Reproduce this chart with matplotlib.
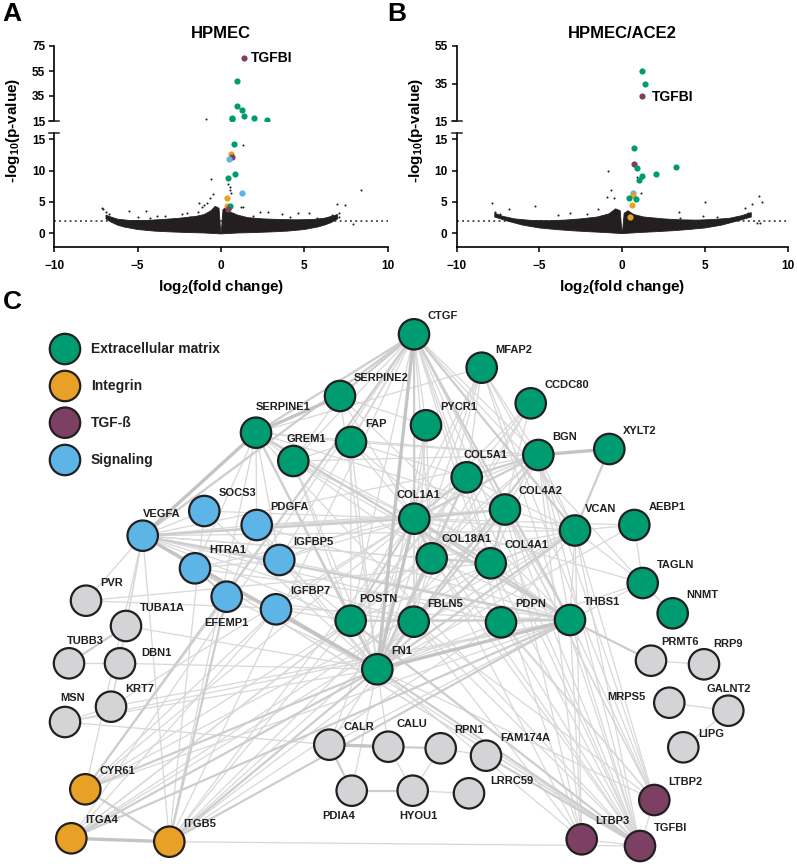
import matplotlib
matplotlib.use('Agg')
import matplotlib.pyplot as plt
from matplotlib.lines import Line2D
from matplotlib.collections import LineCollection

W, H = 797, 864
plt.rcParams['font.family'] = ['Liberation Sans', 'DejaVu Sans']
plt.rcParams['font.weight'] = 'bold'
plt.rcParams['mathtext.fontset'] = 'custom'
plt.rcParams['mathtext.rm'] = 'Liberation Sans:bold'
plt.rcParams['mathtext.it'] = 'Liberation Sans:bold'
plt.rcParams['mathtext.bf'] = 'Liberation Sans:bold'
plt.rcParams['mathtext.default'] = 'regular'

# ---------------- data: volcano plots ----------------
CAT_COLORS = {'ecm': '#009c71', 'int': '#e8a126', 'tgf': '#7b4064', 'sig': '#5cb5e6', 'oth': '#d4d4d6'}

A_hit_x = [1.40, 0.96, 0.96, 1.28, 1.40, 1.98, 2.74, 0.64, 0.64, 0.80, 0.60, 0.68, 0.48, 0.82, 0.42, 1.28, 0.38, 0.38, 0.52, 0.42]
A_hit_y = [65.6, 46.8, 27.0, 23.5, 18.7, 17.6, 15.8, 17.2, 16.5, 14.3, 12.6, 12.1, 11.8, 9.4, 8.9, 6.4, 5.6, 4.4, 4.4, 3.8]
A_hit_cat = ['tgf', 'ecm', 'ecm', 'ecm', 'ecm', 'ecm', 'ecm', 'ecm', 'ecm', 'ecm', 'int', 'tgf', 'sig', 'ecm', 'ecm', 'sig', 'int', 'int', 'ecm', 'tgf']

B_hit_x = [1.18, 1.40, 1.21, 0.69, 0.71, 0.87, 3.25, 2.04, 1.22, 1.00, 0.67, 0.63, 0.39, 0.83, 0.61, 0.47]
B_hit_y = [41.8, 34.6, 28.3, 13.6, 11.1, 10.5, 10.6, 9.5, 9.2, 8.5, 6.4, 6.1, 5.7, 5.5, 4.5, 2.65]
B_hit_cat = ['ecm', 'ecm', 'tgf', 'ecm', 'tgf', 'ecm', 'ecm', 'ecm', 'ecm', 'ecm', 'sig', 'int', 'ecm', 'ecm', 'int', 'int']

A_bg_x = [-7.16, -7.06, -6.9, -6.7, -5.5, -4.5, -3.36, -2.36, -1.36, -0.86, -0.66, -0.5, -1.16, -1.02, -4.96, -4.26,
          -3.86, -1.86, -2.06, -1.3, -0.62, -0.88, 0.44, 0.52, 0.6, 0.56, 1.3, 1.18, 1.34, 1.9, 2.34, 2.84, 3.68,
          4.64, 5.28, 4.14, 5.74, 6.64, 6.98, 7.44, 7.1, 7.06, 8.38, 7.94]
A_bg_y = [3.99, 3.93, 3.35, 3.03, 3.6, 3.6, 2.8, 3.1, 3.35, 4.8, 5.6, 6.3, 4.15, 4.5, 2.55, 2.4,
          2.76, 2.65, 3.2, 4.9, 8.7, 16.3, 7.8, 7.4, 6.4, 6.9, 14.1, 4.25, 4.25, 2.76, 3.4, 3.4, 3.1,
          3.2, 3.3, 2.55, 2.4, 2.92, 4.7, 4.5, 3.3, 2.65, 6.9, 1.5]

B_bg_x = [-7.85, -7.69, -7.38, -6.82, -5.25, -1.44, -0.66, -0.48, 1.14, 3.45, 5.0, 7.86, 8.28, 8.43, 8.16, 8.32,
          7.62, 7.42, -3.86, -3.15, -2.15, 3.49, 4.9, 5.71, -0.94, -0.84, 0.87]
B_bg_y = [4.9, 3.35, 3.03, 3.83, 4.4, 3.83, 6.9, 5.6, 6.5, 3.35, 5.04, 4.68, 5.95, 5.04, 1.69, 1.7,
          3.3, 3.99, 2.92, 3.19, 3.08, 2.4, 2.76, 2.65, 5.84, 10.0, 9.0]

# dense cloud of non-significant genes: upper envelope (left->right) and lower envelope (right->left)
A_cloud_up_x = [-6.9, -6.6, -6.2, -5.5, -4.5, -3.5, -2.5, -1.5, -1.0, -0.6, -0.35, -0.12, -0.02, 0.02, 0.12, 0.3, 0.55, 1.0, 1.6, 2.5, 3.5, 4.5, 5.5, 6.2, 6.7, 7.0]
A_cloud_up_y = [2.9, 2.6, 2.25, 2.05, 2.05, 2.2, 2.4, 2.7, 3.0, 3.6, 4.3, 4.0, 0.3, 0.3, 3.8, 4.1, 3.4, 2.9, 2.5, 2.3, 2.2, 2.15, 2.2, 2.4, 2.75, 3.0]
A_cloud_lo_x = [7.0, 6.6, 6.2, 5.8, 5.0, 4.0, 3.0, 2.0, 1.0, 0.0, -1.0, -2.0, -3.0, -4.0, -5.0, -5.8, -6.2, -6.6, -6.9]
A_cloud_lo_y = [2.3, 1.7, 1.3, 1.0, 0.6, 0.35, 0.22, 0.12, 0.05, -0.1, 0.05, 0.12, 0.22, 0.35, 0.6, 1.0, 1.3, 1.8, 2.3]

B_cloud_up_x = [-7.7, -7.2, -6.5, -5.5, -4.5, -3.5, -2.5, -1.5, -0.8, -0.4, -0.12, -0.02, 0.02, 0.12, 0.35, 0.7, 1.3, 2.5, 3.5, 4.5, 5.5, 6.5, 7.2, 7.8]
B_cloud_up_y = [3.2, 2.7, 2.3, 2.05, 2.0, 2.1, 2.3, 2.6, 3.1, 3.9, 3.6, 0.3, 0.3, 3.2, 3.6, 3.0, 2.6, 2.3, 2.15, 2.1, 2.2, 2.4, 2.8, 3.3]
B_cloud_lo_x = [7.8, 7.0, 6.0, 5.0, 4.0, 3.0, 2.0, 1.0, 0.0, -1.0, -2.0, -3.0, -4.0, -5.0, -6.0, -7.0, -7.7]
B_cloud_lo_y = [2.6, 2.0, 1.3, 0.85, 0.6, 0.4, 0.25, 0.12, -0.05, 0.12, 0.25, 0.4, 0.6, 0.85, 1.3, 2.0, 2.6]

THRESH = 2.0
x_ticks = [-10, -5, 0, 5, 10]
lower_ticks = [0, 5, 10, 15]
A_upper_ticks = [15, 35, 55, 75]
B_upper_ticks = [15, 35, 55]

# ---------------- data: network ----------------
legend_names = ['Extracellular matrix', 'Integrin', 'TGF-ß', 'Signaling']
legend_cats = ['ecm', 'int', 'tgf', 'sig']

ecm_genes = ['CTGF', 'MFAP2', 'CCDC80', 'SERPINE2', 'SERPINE1', 'GREM1', 'FAP', 'PYCR1', 'BGN', 'XYLT2', 'COL5A1',
             'COL1A1', 'COL4A2', 'VCAN', 'AEBP1', 'COL18A1', 'COL4A1', 'TAGLN', 'NNMT', 'POSTN', 'FBLN5', 'PDPN',
             'THBS1', 'FN1']
int_genes = ['CYR61', 'ITGA4', 'ITGB5']
tgf_genes = ['LTBP2', 'LTBP3', 'TGFBI']
sig_genes = ['VEGFA', 'SOCS3', 'PDGFA', 'HTRA1', 'IGFBP5', 'EFEMP1', 'IGFBP7']
oth_genes = ['PVR', 'TUBA1A', 'TUBB3', 'DBN1', 'KRT7', 'MSN', 'CALR', 'CALU', 'RPN1', 'FAM174A', 'PDIA4', 'HYOU1',
             'LRRC59', 'PRMT6', 'RRP9', 'MRPS5', 'GALNT2', 'LIPG']

edges = [
    ("SERPINE1", "SERPINE2", 3), ("SERPINE1", "VEGFA", 3), ("SERPINE1", "CTGF", 2), ("SERPINE2", "CTGF", 2),
    ("SERPINE1", "FN1", 2), ("SERPINE1", "THBS1", 2), ("SERPINE1", "COL1A1", 1), ("SERPINE1", "PDGFA", 1),
    ("SERPINE1", "IGFBP5", 1), ("SERPINE1", "GREM1", 1), ("SERPINE1", "FAP", 1), ("SERPINE1", "VCAN", 1),
    ("SERPINE1", "POSTN", 1), ("SERPINE1", "HTRA1", 1), ("SERPINE1", "BGN", 1), ("SERPINE1", "TGFBI", 1),
    ("SERPINE1", "ITGB5", 1), ("SERPINE2", "FN1", 1), ("SERPINE2", "COL1A1", 1), ("SERPINE2", "PYCR1", 1),
    ("SERPINE2", "THBS1", 1), ("SERPINE2", "GREM1", 1),
    ("CTGF", "COL1A1", 2), ("CTGF", "THBS1", 2), ("CTGF", "VCAN", 2), ("CTGF", "GREM1", 1), ("CTGF", "FAP", 1),
    ("CTGF", "BGN", 1), ("CTGF", "COL4A2", 1), ("CTGF", "COL5A1", 1), ("CTGF", "POSTN", 1), ("CTGF", "TGFBI", 1),
    ("CTGF", "COL18A1", 1), ("CTGF", "VEGFA", 2), ("CTGF", "CYR61", 2), ("CTGF", "PYCR1", 1), ("CTGF", "COL4A1", 1),
    ("CTGF", "FBLN5", 1), ("CTGF", "PDPN", 1), ("CTGF", "LTBP2", 1), ("CTGF", "ITGB5", 1), ("CTGF", "ITGA4", 1),
    ("CTGF", "TAGLN", 1), ("CTGF", "IGFBP5", 1), ("CTGF", "FN1", 3),
    ("MFAP2", "FBLN5", 1), ("MFAP2", "COL1A1", 1), ("MFAP2", "BGN", 1), ("MFAP2", "LTBP2", 1), ("MFAP2", "VCAN", 1),
    ("MFAP2", "COL5A1", 1), ("MFAP2", "FN1", 1), ("MFAP2", "SERPINE1", 1), ("MFAP2", "TGFBI", 1), ("MFAP2", "POSTN", 1),
    ("CCDC80", "COL1A1", 1), ("CCDC80", "FN1", 1), ("CCDC80", "COL18A1", 1), ("CCDC80", "COL4A1", 1), ("CCDC80", "POSTN", 1),
    ("BGN", "XYLT2", 3), ("BGN", "COL1A1", 2), ("BGN", "COL5A1", 2), ("BGN", "COL4A2", 1), ("BGN", "COL4A1", 1),
    ("BGN", "VCAN", 1), ("BGN", "FN1", 2), ("BGN", "POSTN", 1), ("BGN", "THBS1", 1), ("BGN", "FBLN5", 1),
    ("BGN", "TGFBI", 1), ("BGN", "GREM1", 1), ("BGN", "COL18A1", 1), ("BGN", "LTBP2", 1), ("BGN", "FAP", 1),
    ("BGN", "VEGFA", 1), ("BGN", "IGFBP5", 1), ("XYLT2", "VCAN", 2),
    ("AEBP1", "TAGLN", 1), ("AEBP1", "COL1A1", 1), ("AEBP1", "VCAN", 1), ("AEBP1", "FN1", 1),
    ("TAGLN", "NNMT", 1), ("TAGLN", "THBS1", 1), ("TAGLN", "FN1", 1), ("TAGLN", "COL1A1", 1), ("TAGLN", "VCAN", 1),
    ("THBS1", "PRMT6", 2), ("PRMT6", "RRP9", 1), ("MRPS5", "GALNT2", 1), ("GALNT2", "LIPG", 1),
    ("VEGFA", "FN1", 3), ("VEGFA", "COL1A1", 2), ("VEGFA", "COL4A2", 1), ("VEGFA", "COL18A1", 1), ("VEGFA", "THBS1", 2),
    ("VEGFA", "POSTN", 1), ("VEGFA", "PDGFA", 1), ("VEGFA", "IGFBP5", 1), ("VEGFA", "SOCS3", 1), ("VEGFA", "VCAN", 1),
    ("VEGFA", "PVR", 1), ("VEGFA", "TUBA1A", 1), ("VEGFA", "COL4A1", 1), ("VEGFA", "FBLN5", 1), ("VEGFA", "PDPN", 1),
    ("VEGFA", "ITGB5", 1), ("VEGFA", "CYR61", 1), ("VEGFA", "KRT7", 1),
    ("HTRA1", "EFEMP1", 2), ("HTRA1", "IGFBP5", 1), ("HTRA1", "COL1A1", 1), ("HTRA1", "TGFBI", 1),
    ("IGFBP7", "FN1", 2), ("IGFBP7", "POSTN", 1), ("IGFBP7", "COL1A1", 1), ("IGFBP7", "ITGA4", 1), ("IGFBP7", "CYR61", 1),
    ("IGFBP5", "COL1A1", 1), ("IGFBP5", "FN1", 1), ("IGFBP5", "POSTN", 1), ("IGFBP5", "THBS1", 1), ("IGFBP5", "PDGFA", 1),
    ("PDGFA", "COL1A1", 1), ("PDGFA", "FN1", 1), ("PDGFA", "EFEMP1", 1), ("PDGFA", "THBS1", 1), ("PDGFA", "COL4A2", 1),
    ("SOCS3", "ITGB5", 1), ("SOCS3", "FN1", 1), ("SOCS3", "COL1A1", 1),
    ("EFEMP1", "ITGB5", 2), ("EFEMP1", "CYR61", 1), ("EFEMP1", "FN1", 1), ("EFEMP1", "FBLN5", 1),
    ("ITGA4", "ITGB5", 3), ("CYR61", "ITGB5", 2), ("CYR61", "FN1", 2), ("CYR61", "THBS1", 1), ("CYR61", "VCAN", 1),
    ("CYR61", "POSTN", 1), ("CYR61", "COL1A1", 1),
    ("ITGA4", "FN1", 2), ("ITGA4", "VCAN", 1), ("ITGA4", "THBS1", 2), ("ITGA4", "POSTN", 1), ("ITGA4", "COL4A1", 1),
    ("ITGA4", "COL18A1", 1),
    ("ITGB5", "FN1", 2), ("ITGB5", "COL1A1", 1), ("ITGB5", "POSTN", 1), ("ITGB5", "TGFBI", 1), ("ITGB5", "VCAN", 1),
    ("ITGB5", "THBS1", 2), ("ITGB5", "COL4A2", 1), ("ITGB5", "FBLN5", 1), ("ITGB5", "PDPN", 1),
    ("TUBA1A", "TUBB3", 2), ("TUBB3", "DBN1", 1), ("TUBA1A", "KRT7", 1), ("KRT7", "MSN", 1), ("MSN", "FN1", 1),
    ("MSN", "CALR", 1), ("KRT7", "THBS1", 1), ("KRT7", "COL1A1", 1), ("PVR", "COL4A1", 1), ("DBN1", "FN1", 1),
    ("TUBA1A", "FN1", 1), ("MSN", "THBS1", 1), ("PVR", "THBS1", 1),
    ("CALR", "CALU", 3), ("CALR", "PDIA4", 2), ("PDIA4", "HYOU1", 2), ("CALU", "RPN1", 2), ("CALU", "HYOU1", 1),
    ("RPN1", "HYOU1", 1), ("HYOU1", "LRRC59", 1), ("CALR", "FN1", 1), ("CALR", "THBS1", 1), ("CALU", "FN1", 1),
    ("FAM174A", "TGFBI", 2), ("CALR", "COL1A1", 1), ("PDIA4", "FN1", 1), ("RPN1", "FAM174A", 1),
    ("LTBP2", "TGFBI", 1), ("LTBP2", "FN1", 1), ("LTBP2", "THBS1", 1), ("LTBP2", "COL1A1", 1), ("LTBP2", "FBLN5", 1),
    ("LTBP2", "VCAN", 1), ("LTBP2", "COL4A2", 1), ("LTBP2", "PDPN", 1),
    ("LTBP3", "FN1", 1), ("LTBP3", "THBS1", 1), ("LTBP3", "COL1A1", 1), ("LTBP3", "COL4A2", 1), ("LTBP3", "TGFBI", 1),
    ("LTBP3", "BGN", 1), ("LTBP3", "FBLN5", 1), ("LTBP3", "VCAN", 1), ("LTBP3", "COL4A1", 1),
    ("TGFBI", "FN1", 2), ("TGFBI", "COL1A1", 1), ("TGFBI", "POSTN", 2), ("TGFBI", "COL4A2", 1), ("TGFBI", "THBS1", 1),
    ("TGFBI", "VCAN", 1), ("TGFBI", "COL5A1", 1), ("TGFBI", "COL18A1", 1), ("TGFBI", "COL4A1", 1), ("TGFBI", "FBLN5", 1),
    ("TGFBI", "PDPN", 1), ("TGFBI", "VEGFA", 1), ("TGFBI", "IGFBP7", 1),
    ("FN1", "COL1A1", 3), ("FN1", "COL4A1", 2), ("FN1", "COL4A2", 2), ("FN1", "COL5A1", 2), ("FN1", "COL18A1", 2),
    ("FN1", "POSTN", 2), ("FN1", "FBLN5", 2), ("FN1", "PDPN", 1), ("FN1", "THBS1", 3), ("FN1", "VCAN", 2),
    ("FN1", "FAP", 1), ("FN1", "GREM1", 1), ("FN1", "HTRA1", 1), ("FN1", "PYCR1", 1),
    ("THBS1", "COL1A1", 2), ("THBS1", "VCAN", 1), ("THBS1", "POSTN", 2), ("THBS1", "PDPN", 1), ("THBS1", "COL4A1", 1),
    ("THBS1", "COL18A1", 1), ("THBS1", "COL4A2", 1), ("THBS1", "FBLN5", 1), ("THBS1", "GREM1", 1), ("THBS1", "HTRA1", 1),
    ("COL1A1", "COL4A1", 2), ("COL1A1", "COL4A2", 2), ("COL1A1", "COL5A1", 2), ("COL1A1", "COL18A1", 2),
    ("COL1A1", "POSTN", 2), ("COL1A1", "VCAN", 1), ("COL1A1", "PDPN", 1), ("COL1A1", "FBLN5", 1), ("COL1A1", "GREM1", 1),
    ("COL1A1", "FAP", 1), ("COL1A1", "PYCR1", 1),
    ("COL4A1", "COL4A2", 2), ("COL4A1", "COL18A1", 2), ("COL4A1", "COL5A1", 1), ("COL4A2", "COL18A1", 1),
    ("COL4A2", "COL5A1", 1), ("COL5A1", "COL18A1", 1), ("COL5A1", "POSTN", 1), ("COL5A1", "VCAN", 1),
    ("POSTN", "FBLN5", 1), ("POSTN", "VCAN", 1), ("POSTN", "GREM1", 1), ("POSTN", "FAP", 1), ("VCAN", "COL4A1", 1),
    ("VCAN", "COL18A1", 1), ("VCAN", "PDPN", 1), ("FAP", "GREM1", 1), ("FAP", "COL5A1", 1), ("GREM1", "COL18A1", 1),
    ("FAP", "COL4A1", 1), ("PYCR1", "COL18A1", 1), ("PYCR1", "FBLN5", 1),
]

# ---------------- layout (pixel positions) ----------------
layout = {
    'CTGF': (414, 334.3), 'MFAP2': (481.7, 367.7), 'CCDC80': (530.7, 403.3), 'SERPINE2': (340, 396),
    'SERPINE1': (256, 432.7), 'GREM1': (293.3, 461), 'FAP': (351, 442), 'PYCR1': (426, 425.3), 'BGN': (538.3, 455),
    'XYLT2': (609.3, 449), 'COL5A1': (466.7, 477.3), 'COL1A1': (414.3, 518.7), 'COL4A2': (505, 509.5),
    'VCAN': (575, 530.5), 'AEBP1': (634.3, 525), 'COL18A1': (431.7, 558.3), 'COL4A1': (490.7, 563.3),
    'TAGLN': (642.7, 583), 'NNMT': (672.7, 613.3), 'POSTN': (350.7, 620.7), 'FBLN5': (413.7, 621.7),
    'PDPN': (501, 622.3), 'THBS1': (570, 620), 'FN1': (377.3, 669.3),
    'VEGFA': (142.7, 535.7), 'SOCS3': (204.3, 511), 'PDGFA': (256.7, 525), 'HTRA1': (195, 568.3),
    'IGFBP5': (279.3, 560), 'EFEMP1': (226.7, 596.7), 'IGFBP7': (276, 609.3),
    'PVR': (86, 600.7), 'TUBA1A': (126, 626), 'TUBB3': (69, 663.3), 'DBN1': (120, 663.3), 'KRT7': (111, 706.7),
    'MSN': (65, 722), 'CYR61': (85.3, 789.3), 'ITGA4': (71.3, 838.3), 'ITGB5': (169.3, 841.7),
    'CALR': (329.3, 744.7), 'CALU': (388.3, 746.7), 'RPN1': (440.7, 748.3), 'FAM174A': (486, 755.7),
    'PDIA4': (351.7, 790.7), 'HYOU1': (412.7, 790.7), 'LRRC59': (469, 793.3),
    'PRMT6': (651, 660.7), 'RRP9': (704, 664.3), 'MRPS5': (669.3, 702.7), 'GALNT2': (728.3, 710.7),
    'LIPG': (683.3, 747.3), 'LTBP2': (654.3, 800), 'LTBP3': (581.7, 839.3), 'TGFBI': (640, 846),
}
label_offsets = {
    'SERPINE1': (0, -26, 'left'), 'GREM1': (-7, -22, 'left'), 'VEGFA': (0, -22, 'left'), 'EFEMP1': (0, 26, 'center'),
    'PDIA4': (-13, 25, 'center'), 'HYOU1': (6, 25, 'center'), 'MRPS5': (-24, -6, 'right'), 'TUBB3': (-2, -22, 'left'),
    'MSN': (-5, -24, 'left'), 'COL1A1': (-18, -24, 'left'), 'COL18A1': (10, -19, 'left'), 'COL5A1': (-3, -22, 'left'),
    'POSTN': (9, -22, 'left'), 'VCAN': (10, -21, 'left'), 'PRMT6': (10, -19, 'left'), 'RRP9': (9, -20, 'left'),
    'GALNT2': (-22, -22, 'left'), 'LIPG': (15, -13, 'left'), 'LRRC59': (21, -12, 'left'), 'CALU': (8, -23, 'left'),
    'DBN1': (21, -10, 'left'),
}
DEFAULT_OFF = (14, -18, 'left')


def rect(l, t, r, b):
    return [l / W, 1 - b / H, (r - l) / W, (b - t) / H]


fig = plt.figure(figsize=(W / 100, H / 100), dpi=100)
fig.patch.set_facecolor('white')


def ftext(x, y, s, **kw):
    fig.text(x / W, 1 - y / H, s, **kw)


def volcano(xl, xr, hit_x, hit_y, hit_cat, bg_x, bg_y, cu_x, cu_y, cl_x, cl_y, up_top, up_ticks, title, label_xy):
    lo = fig.add_axes(rect(xl, 133.3, xr, 246.7))
    up = fig.add_axes(rect(xl, 46, xr, 121))
    for ax in (lo, up):
        ax.patch.set_alpha(0)
        ax.set_xlim(-10, 10)
        for s in ('top', 'right'):
            ax.spines[s].set_visible(False)
        ax.spines['left'].set_linewidth(1.2)
        ax.spines['bottom'].set_linewidth(1.2)
        ax.tick_params(direction='out', length=3.6, width=1.1, labelsize=8.5, pad=3)
    lo.set_ylim(-2.14, 15.96)
    up.set_ylim(15, up_top)
    lo.set_xticks(x_ticks)
    lo.set_yticks(lower_ticks)
    lo.tick_params(axis='x', pad=6)
    up.set_xticks([])
    up.set_yticks(up_ticks)
    up.spines['bottom'].set_visible(False)
    # threshold
    lo.plot([-10, 10], [THRESH, THRESH], ls=(0, (1.2, 2.2)), color='#231f20', lw=1.1, zorder=1)
    # cloud
    lo.fill(cu_x + cl_x, cu_y + cl_y, color='#231f20', lw=0.6, zorder=2)
    lo.scatter(bg_x, bg_y, s=2.2, color='#231f20', lw=0, zorder=3)
    up.scatter([x for x, y in zip(bg_x, bg_y) if y >= 15], [y for y in bg_y if y >= 15], s=2.2, color='#231f20', lw=0)
    for x, y, c in zip(hit_x, hit_y, hit_cat):
        target = up if y >= 15 else lo
        target.scatter([x], [y], s=20, color=CAT_COLORS[c], lw=0, zorder=4)
    up.text(label_xy[0], label_xy[1], 'TGFBI', fontsize=10, fontweight='bold', ha='left', va='center')
    ftext((xl + xr) / 2, 33, title, fontsize=12, fontweight='bold', ha='center', va='center')
    ftext((xl + xr) / 2, 287, r'log$_2$(fold change)', fontsize=11, fontweight='bold', ha='center', va='center')
    ftext(xl - 41, 130, r'-log$_{10}$(p-value)', fontsize=11, fontweight='bold', ha='center', va='center',
          rotation=90)
    # axis break marks
    for yy in (121, 133.3):
        fig.add_artist(Line2D([(xl - 5) / W, (xl + 5) / W], [1 - yy / H, 1 - yy / H], color='#231f20', lw=1.1))


volcano(54.3, 387.7, A_hit_x, A_hit_y, A_hit_cat, A_bg_x, A_bg_y, A_cloud_up_x, A_cloud_up_y, A_cloud_lo_x,
        A_cloud_lo_y, 75, A_upper_ticks, 'HPMEC', (1.78, 65.2))
volcano(456.7, 787.7, B_hit_x, B_hit_y, B_hit_cat, B_bg_x, B_bg_y, B_cloud_up_x, B_cloud_up_y, B_cloud_lo_x,
        B_cloud_lo_y, 55, B_upper_ticks, 'HPMEC/ACE2', (1.82, 28.0))

ftext(12, 14, 'A', fontsize=19, fontweight='bold', ha='center', va='center')
ftext(397, 14, 'B', fontsize=19, fontweight='bold', ha='center', va='center')
ftext(12, 302, 'C', fontsize=19, fontweight='bold', ha='center', va='center')

# ---------------- network ----------------
net = fig.add_axes(rect(0, 300, W, H))
net.set_xlim(0, W)
net.set_ylim(H, 300)
net.axis('off')

cat_of = {}
for g in ecm_genes:
    cat_of[g] = 'ecm'
for g in int_genes:
    cat_of[g] = 'int'
for g in tgf_genes:
    cat_of[g] = 'tgf'
for g in sig_genes:
    cat_of[g] = 'sig'
for g in oth_genes:
    cat_of[g] = 'oth'

w_style = {1: (0.9, '#d8d8d8'), 2: (1.6, '#cdcdcd'), 3: (2.4, '#c4c4c4')}
for w in (1, 2, 3):
    segs = [[layout[a], layout[b]] for a, b, ww in edges if ww == w]
    lc = LineCollection(segs, linewidths=w_style[w][0], colors=w_style[w][1], zorder=1 + w * 0.1)
    net.add_collection(lc)

names = list(layout.keys())
net.scatter([layout[n][0] for n in names], [layout[n][1] for n in names], s=480,
            c=[CAT_COLORS[cat_of[n]] for n in names], edgecolors='#231f20', linewidths=1.6, zorder=3, clip_on=False)
for n in names:
    dx, dy, ha = label_offsets.get(n, DEFAULT_OFF)
    x, y = layout[n]
    net.text(x + dx, y + dy, n, fontsize=8, fontweight='bold', color='#231f20', ha=ha, va='center', zorder=4)

leg_y = [349, 386, 422.7, 460]
net.scatter([65] * 4, leg_y, s=480, c=[CAT_COLORS[c] for c in legend_cats], edgecolors='#231f20',
            linewidths=1.6, zorder=3)
for yy, nm in zip(leg_y, legend_names):
    net.text(90.7, yy, nm, fontsize=10, fontweight='bold', color='#231f20', ha='left', va='center')

fig.savefig('out.png', dpi=100)
